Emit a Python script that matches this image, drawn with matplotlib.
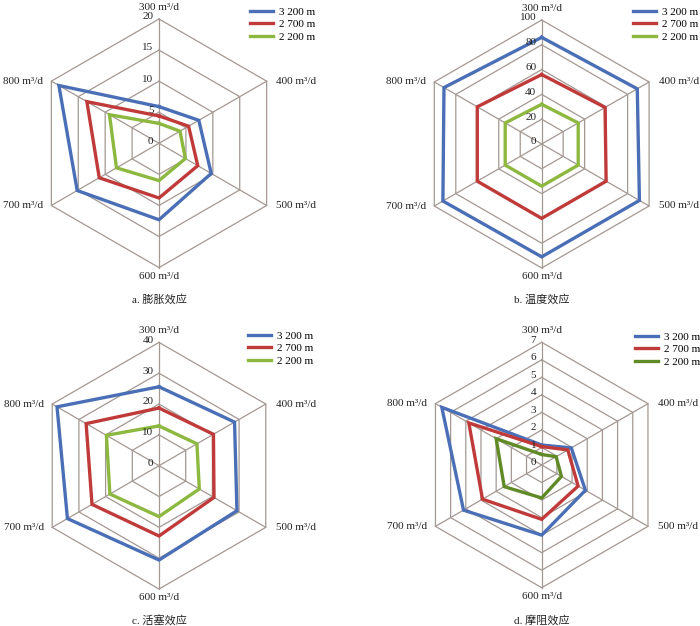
import numpy as np
import matplotlib
matplotlib.use("Agg")
import matplotlib.pyplot as plt

plt.rcParams['font.family'] = ['Liberation Serif', 'Noto Sans CJK SC']

categories = ["300 m³/d", "400 m³/d", "500 m³/d", "600 m³/d", "700 m³/d", "800 m³/d"]
series_names = ["3 200 m", "2 700 m", "2 200 m"]

# a. 膨胀效应
a_3200 = [5.9, 7.4, 9.7, 12.3, 15.2, 18.6]
a_2700 = [4.4, 5.5, 7.2, 8.8, 11.1, 13.4]
a_2200 = [3.2, 3.9, 4.9, 6.0, 7.9, 9.2]
a_ticks = [0, 5, 10, 15, 20]

# b. 温度效应
b_3200 = [86, 89, 91, 91, 92, 91]
b_2700 = [56, 59, 60, 60, 60, 60]
b_2200 = [32, 34, 34, 34, 34, 34]
b_ticks = [0, 20, 40, 60, 80, 100]

# c. 活塞效应
c_3200 = [25.6, 28.3, 29.2, 30.6, 34.3, 38.2]
c_2700 = [18.7, 20.4, 20.6, 22.8, 25.1, 27.3]
c_2200 = [12.9, 14.2, 15.1, 16.5, 18.4, 19.7]
c_ticks = [0, 10, 20, 30, 40]

# d. 摩阻效应
d_3200 = [1.14, 1.95, 2.88, 4.0, 5.15, 6.58]
d_2700 = [1.05, 1.72, 2.4, 3.1, 3.9, 4.8]
d_2200 = [0.6, 0.95, 1.3, 1.88, 2.47, 3.0]
d_ticks = [0, 1, 2, 3, 4, 5, 6, 7]

captions = ["a. 膨胀效应", "b. 温度效应", "c. 活塞效应", "d. 摩阻效应"]

W, H = 700, 626
fig = plt.figure(figsize=(W / 100, H / 100), dpi=100)
fig.patch.set_facecolor('white')

GRID = '#a39893'
BLUE = '#4a6fb6'
RED = '#c03a3a'
GREEN = '#8db83f'
OLIVE = '#5f8a26'
FS = 8

panels = [
    dict(data=[a_3200, a_2700, a_2200], ticks=a_ticks, c=(159, 143.3), r=124.3,
         colors=[BLUE, RED, GREEN], leg=(250, 7), cap=(159, 299)),
    dict(data=[b_3200, b_2700, b_2200], ticks=b_ticks, c=(541.7, 144), r=124,
         colors=[BLUE, RED, GREEN], leg=(633, 7), cap=(541.7, 299)),
    dict(data=[c_3200, c_2700, c_2200], ticks=c_ticks, c=(159, 465.7), r=123.3,
         colors=[BLUE, RED, GREEN], leg=(248, 331), cap=(159, 620)),
    dict(data=[d_3200, d_2700, d_2200], ticks=d_ticks, c=(541.7, 465), r=122.7,
         colors=[BLUE, RED, OLIVE], leg=(635, 332), cap=(541.7, 620)),
]

n = len(categories)
thetas = np.arange(n) * 2 * np.pi / n
closed_t = np.append(thetas, thetas[0])

# label placement (offset points, ha, va) per category
lab_cfg = [
    ((0, 5), 'center', 'bottom'),
    ((7, 0), 'left', 'center'),
    ((7, 0), 'left', 'center'),
    ((0, -3), 'center', 'top'),
    ((-6, 0), 'right', 'center'),
    ((-6, 0), 'right', 'center'),
]

for i, p in enumerate(panels):
    cx, cy = p['c']
    r = p['r']
    ax = fig.add_axes([(cx - r) / W, (H - cy - r) / H, 2 * r / W, 2 * r / H],
                      projection='polar')
    ax.set_theta_zero_location('N')
    ax.set_theta_direction(-1)
    rmax = p['ticks'][-1]
    ax.set_ylim(0, rmax)
    ax.axis('off')

    for v in p['ticks'][1:]:
        ax.plot(closed_t, [v] * (n + 1), color=GRID, lw=0.9, clip_on=False, zorder=1)
    for t in thetas:
        ax.plot([t, t], [0, rmax], color=GRID, lw=0.9, clip_on=False, zorder=1)

    lines = []
    for vals, col, name in zip(p['data'], p['colors'], series_names):
        vv = np.append(vals, vals[0])
        ln, = ax.plot(closed_t, vv, color=col, lw=2.4, clip_on=False, zorder=3,
                      solid_joinstyle='miter', label=name)
        lines.append(ln)

    for v in p['ticks']:
        ax.annotate(str(v), xy=(0, v), xytext=(-4, 1.5), textcoords='offset points',
                    ha='right', va='center', fontsize=FS, color='#222222', zorder=4)

    for t, lab, (off, ha, va) in zip(thetas, categories, lab_cfg):
        ax.annotate(lab, xy=(t, rmax), xytext=off, textcoords='offset points',
                    ha=ha, va=va, fontsize=FS, color='#222222', annotation_clip=False)

    lx, ly = p['leg']
    fig.legend(handles=lines, loc='upper left',
               bbox_to_anchor=(lx / W, 1 - ly / H), frameon=False,
               fontsize=FS, handlelength=2.05, handletextpad=0.55,
               borderpad=0, borderaxespad=0, labelspacing=0.25)

    fig.text(p['cap'][0] / W, 1 - p['cap'][1] / H, captions[i], ha='center', va='center',
             fontsize=FS, color='#222222')

fig.savefig('out.png', dpi=100, facecolor='white')
